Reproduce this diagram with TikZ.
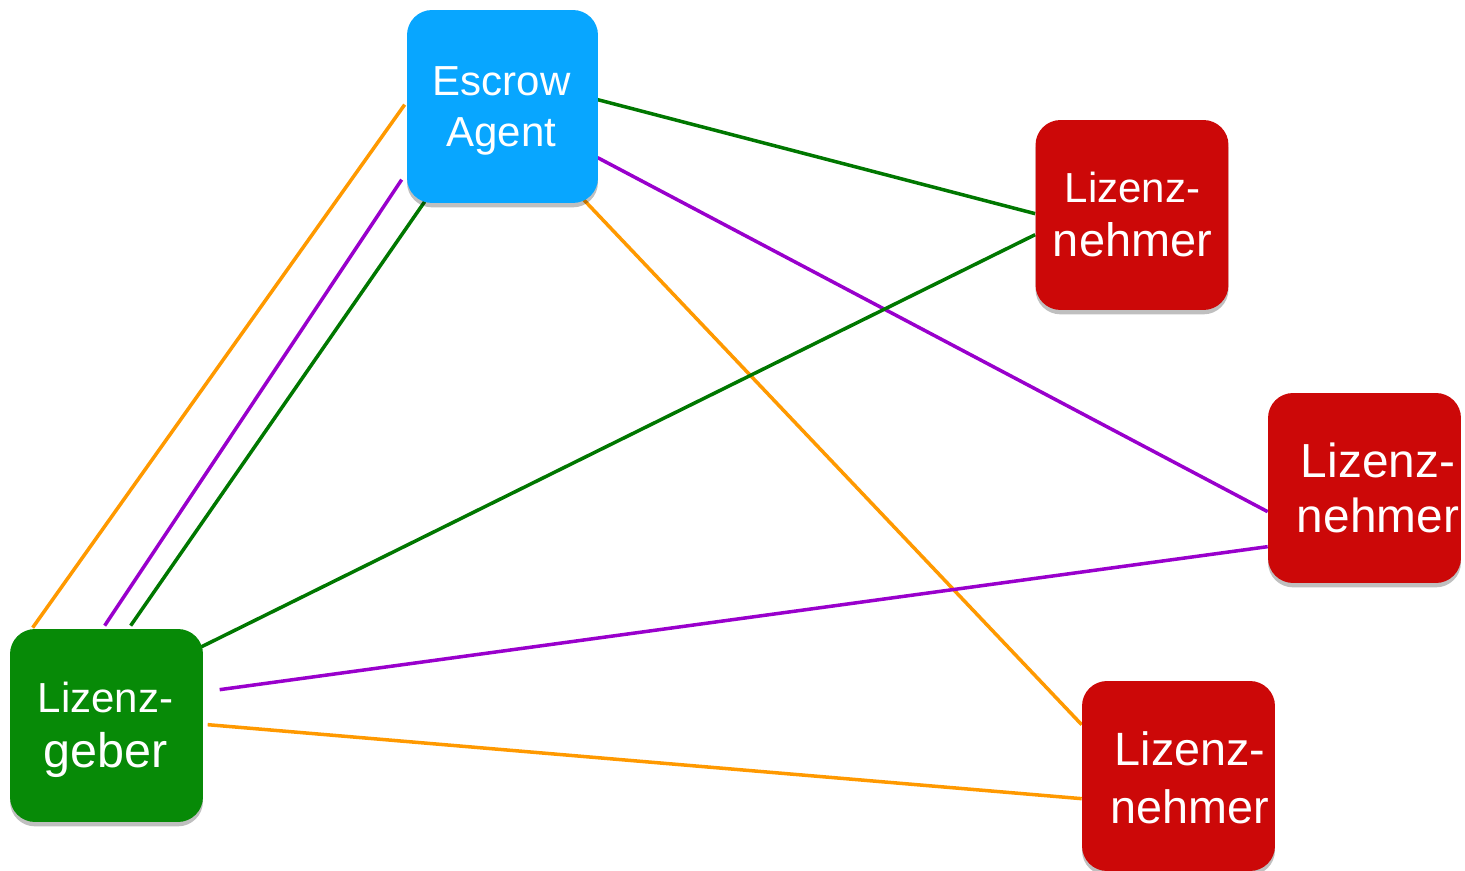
\documentclass[tikz,border=0pt]{standalone}
\usepackage{fontspec}
\setmainfont{Liberation Sans}
\usetikzlibrary{calc,backgrounds,shadows}
\definecolor{escblue}{HTML}{08A6FF}
\definecolor{gebgreen}{HTML}{078A07}
\definecolor{lnred}{HTML}{CC0808}
\definecolor{lorange}{HTML}{FF9900}
\definecolor{lpurple}{HTML}{9900CC}
\definecolor{lgreen}{HTML}{007700}
\newcommand{\fs}[1]{\fontsize{#1}{#1}\selectfont}
\tikzset{
  box/.style={rectangle, rounded corners=0.5cm, draw=none, inner sep=0pt,
    drop shadow={shadow xshift=0pt, shadow yshift=-2.5pt, opacity=0.25, fill=black}},
  escbox/.style={box, fill=escblue, minimum width=3.82cm, minimum height=3.86cm},
  gebbox/.style={box, fill=gebgreen, minimum width=3.86cm, minimum height=3.86cm},
  lnbox/.style={box, fill=lnred, minimum width=3.86cm, minimum height=3.8cm},
  lbl/.style={text=white, align=center, inner sep=0pt, anchor=base},
  conn/.style={line width=2pt},
  corange/.style={conn, draw=lorange},
  cpurple/.style={conn, draw=lpurple},
  cgreen/.style={conn, draw=lgreen}
}
\begin{document}
\begin{tikzpicture}[x=0.02cm, y=-0.02cm]
\useasboundingbox (0,0) rectangle (1465,871);
% boxes
\node[escbox] (esc) at (502.5,106.5) {};
\node[lnbox] (ln1) at (1132,215) {};
\node[lnbox] (ln2) at (1364.5,488) {};
\node[lnbox] (ln3) at (1178.5,776) {};
\node[gebbox] (geb) at (106.5,725.5) {};
% labels (anchor = baseline of the last line)
\node[lbl, font=\fontsize{23.9}{29.5}\selectfont] (esct) at (501.5,147) {Escrow\\Agent};
\node[lbl, font=\fontsize{24}{31.2}\selectfont] (ln1t) at (1132.5,257) {\fs{23.9}Lizenz-\\\fs{26.7}nehmer};
\node[lbl, font=\fontsize{27.2}{31.7}\selectfont] (ln2t) at (1378,533) {Lizenz-\\nehmer};
\node[lbl, font=\fontsize{26.6}{32.9}\selectfont] (ln3t) at (1190,823) {Lizenz-\\nehmer};
\node[lbl, font=\fontsize{24}{31}\selectfont] (gebt) at (105.5,767) {\fs{23.9}Lizenz-\\\fs{27.6}geber};
% connectors
\begin{pgfonlayer}{background}
\draw[corange] ($(geb.north west)+(23,-1)$) -- ($(esc.north west)+(-2,95)$);
\draw[cpurple] ($(geb.north west)+(95,-3)$) -- ($(esc.north west)+(-5,170)$);
\draw[cgreen]  ($(geb.north west)+(121,-3)$) -- ($(esc.north west)+(18,192)$);
\draw[corange] ($(esc.north west)+(177,190)$) -- ($(ln3.north west)+(0,44)$);
\draw[cgreen]  ($(esc.north west)+(191,90)$) -- ($(ln1.north west)+(0,94)$);
\draw[cpurple] ($(esc.north west)+(191,148)$) -- ($(ln2.north west)+(0,119)$);
\draw[cgreen]  ($(geb.north west)+(190,19)$) -- ($(ln1.north west)+(0,115)$);
\draw[cpurple] ($(geb.north west)+(210,61)$) -- ($(ln2.north west)+(0,154)$);
\draw[corange] ($(geb.north west)+(198,96)$) -- ($(ln3.north west)+(0,118)$);
\end{pgfonlayer}
\end{tikzpicture}
\end{document}
